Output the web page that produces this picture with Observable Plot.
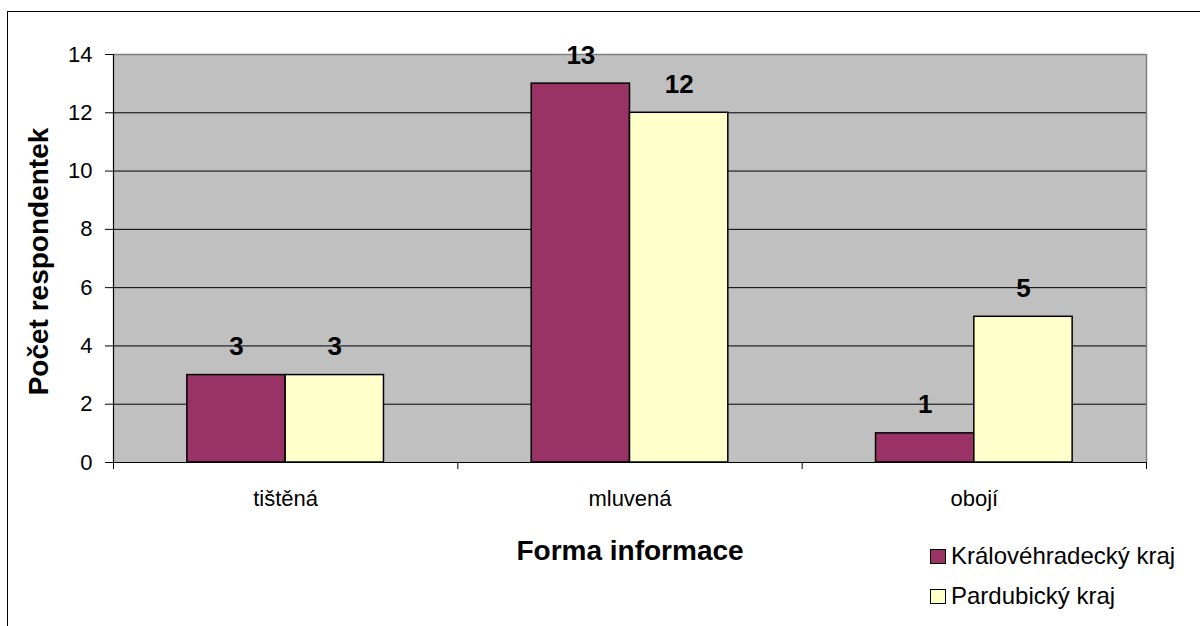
<!DOCTYPE html>
<html>
<head>
<meta charset="utf-8">
<script src="https://cdn.jsdelivr.net/npm/d3@7"></script>
<script src="https://cdn.jsdelivr.net/npm/@observablehq/plot@0.6"></script>
<style>
  html, body { margin: 0; padding: 0; background: #fff; }
  #chart { position: relative; width: 1200px; height: 626px; overflow: hidden;
           font-family: "Liberation Sans", Arial, sans-serif; }
  #chart svg { display: block; }
  #border { position: absolute; left: 7px; top: 11px; width: 1400px; height: 800px;
            border-left: 1.5px solid #000; border-top: 1.5px solid #000; pointer-events: none; }
  #legend { position: absolute; left: 930px; top: 536px; font-size: 24px; color: #000; }
  #legend .item { display: flex; align-items: center; height: 40px; white-space: nowrap; }
  #legend .swatch { width: 14px; height: 13px; border: 1.5px solid #000; margin-right: 5px; }
</style>
</head>
<body>
<div id="chart">
  <div id="border"></div>
  <div id="legend"></div>
</div>
<script>
// Survey answers: preferred form of information, by region
const categories = ["tištěná", "mluvená", "obojí"];
const seriesNames = ["Královéhradecký kraj", "Pardubický kraj"];
const kralovehradecky = [3, 13, 1];
const pardubicky = [3, 12, 5];
const yTicks = [0, 2, 4, 6, 8, 10, 12, 14];
const seriesColors = ["#993366", "#FFFFCC"];

const xTitle = "Forma informace";
const yTitle = "Počet respondentek";

// each category occupies one unit on x; the two bars sit side by side at its centre
const barWidth = 0.2855;
const rows = categories.flatMap((c, i) => [
  {category: c, series: seriesNames[0], value: kralovehradecky[i], x1: i + 0.5 - barWidth, x2: i + 0.5},
  {category: c, series: seriesNames[1], value: pardubicky[i], x1: i + 0.5, x2: i + 0.5 + barWidth}
]);

const chart = Plot.plot({
  width: 1200,
  height: 626,
  marginLeft: 113,
  marginRight: 54,
  marginTop: 54,
  marginBottom: 164,
  style: {fontFamily: "'Liberation Sans', Arial, sans-serif", fontSize: "22px", color: "#000", background: "transparent"},
  x: {domain: [0, categories.length], label: null},
  y: {domain: [0, 14], label: null},
  color: {domain: seriesNames, range: seriesColors},
  marks: [
    Plot.frame({fill: "#c0c0c0", stroke: "none"}),
    Plot.gridY({ticks: yTicks, stroke: "#000", strokeOpacity: 1, strokeWidth: 1}),
    Plot.ruleY([14], {stroke: "#808080", strokeWidth: 1.5}),
    Plot.ruleX([categories.length], {stroke: "#808080", strokeWidth: 1.5}),
    Plot.rectY(rows, {x1: "x1", x2: "x2", y: "value", fill: "series", stroke: "#000", strokeWidth: 1.5}),
    Plot.ruleX([0], {stroke: "#000", strokeWidth: 1.2}),
    Plot.ruleY([0], {stroke: "#000", strokeWidth: 1.2}),
    Plot.text(rows, {
      x: d => (d.x1 + d.x2) / 2, y: "value", text: "value",
      lineAnchor: "bottom", dy: -20, fontWeight: "bold", fontSize: 26
    }),
    Plot.axisY({ticks: yTicks, tickSize: 8, tickPadding: 13, label: null, fontSize: 22}),
    Plot.axisX({ticks: d3.range(categories.length + 1), tickSize: 7, tickFormat: () => "", label: null}),
    Plot.axisX({
      ticks: categories.map((c, i) => i + 0.5), tickSize: 0, tickPadding: 28,
      tickFormat: v => categories[Math.floor(v)], label: null, fontSize: 22
    }),
    Plot.text([xTitle], {
      frameAnchor: "bottom", lineAnchor: "bottom", dy: 97,
      text: d => d, fontWeight: "bold", fontSize: 28
    }),
    Plot.text([yTitle], {
      frameAnchor: "left", textAnchor: "middle", lineAnchor: "bottom", rotate: -90, dx: -66, dy: 3,
      text: d => d, fontWeight: "bold", fontSize: 28
    })
  ]
});

document.getElementById("chart").prepend(chart);

// legend: one swatch per region
const legend = document.getElementById("legend");
seriesNames.forEach((name, i) => {
  const item = document.createElement("div");
  item.className = "item";
  const sw = document.createElement("div");
  sw.className = "swatch";
  sw.style.background = seriesColors[i];
  const label = document.createElement("span");
  label.textContent = name;
  item.append(sw, label);
  legend.append(item);
});
</script>
</body>
</html>
